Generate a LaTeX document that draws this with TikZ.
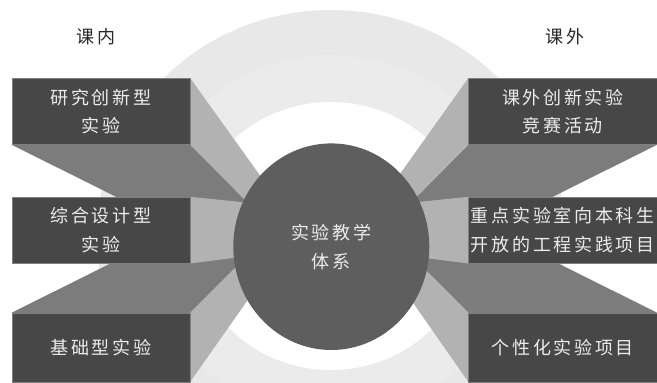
\documentclass[tikz,border=0pt]{standalone}
\usepackage{fontspec}
\newfontfamily\cjk[LetterSpace=15]{Noto Sans CJK SC}
\usetikzlibrary{shapes.geometric}
\pgfdeclarelayer{rings}
\pgfdeclarelayer{faces}
\pgfsetlayers{rings,faces,main}
\definecolor{boxdark}{RGB}{71,71,71}
\definecolor{facelight}{RGB}{178,178,178}
\definecolor{facemid}{RGB}{124,124,124}
\definecolor{hub}{RGB}{94,94,94}
\definecolor{boxtext}{RGB}{236,236,236}
\definecolor{labeltext}{RGB}{40,40,40}
\begin{document}
\begin{tikzpicture}[x=1pt,y=-1pt,
  box/.style={draw=black!50, line width=0.4pt, fill=boxdark, inner sep=0pt,
    text=boxtext, font=\cjk\fontsize{18}{28.5}\selectfont, align=center},
  lightface/.style={fill=facelight},
  midface/.style={fill=facemid},
  hubnode/.style={ellipse, fill=hub, inner sep=0pt, minimum width=196pt, minimum height=206.6pt,
    text=boxtext, font=\cjk\fontsize{18}{29}\selectfont, align=center},
  sidelabel/.style={text=labeltext, font=\cjk\fontsize{18}{22}\selectfont}]
\useasboundingbox (0,0) rectangle (657,383);
\clip (0,0) rectangle (657,383);
% boxes (named nodes)
\node[box, minimum width=178.3pt, minimum height=66.2pt] (l1) at (100.85,111.4) {研究创新型\\实验};
\node[box, minimum width=178.3pt, minimum height=66.3pt] (l2) at (100.85,230.15) {综合设计型\\实验};
\node[box, minimum width=178.3pt, minimum height=68.7pt] (l3) at (100.85,347.35) {基础型实验};
\node[box, minimum width=188.5pt, minimum height=66.2pt] (r1) at (562.75,111.4) {课外创新实验\\竞赛活动};
\node[box, minimum width=188.5pt, minimum height=66.3pt] (r2) at (562.75,230.15) {重点实验室向本科生\\开放的工程实践项目};
\node[box, minimum width=188.5pt, minimum height=68.7pt] (r3) at (562.75,347.35) {个性化实验项目};
% hub
\node[hubnode] (hub) at (331.3,246.7) {实验教学\\体系};
% side labels
\node[sidelabel] (kn) at (96,37) {课内};
\node[sidelabel] (kw) at (565,37) {课外};
% far points of the extrusions (hidden behind the hub)
\coordinate (a1t) at (280,203.4);
\coordinate (a1b) at (280,235);
\coordinate (a1c) at (280,278.5);
\coordinate (a2t) at (280,206);
\coordinate (a2b) at (280,252);
\coordinate (a3c) at (280,179);
\coordinate (a3t) at (280,223);
\coordinate (a3b) at (280,254);
\coordinate (b1t) at (379,203.4);
\coordinate (b1b) at (379,235);
\coordinate (b1c) at (379,283.5);
\coordinate (b2t) at (379,206);
\coordinate (b2b) at (379,252);
\coordinate (b3c) at (379,174);
\coordinate (b3t) at (379,223);
\coordinate (b3b) at (379,254);
\begin{pgfonlayer}{rings}
\fill[white] (0,0) rectangle (657,383);
\shade[left color=gray!18, middle color=gray!7, right color=gray!18]
  (331,236) ellipse [x radius=234pt, y radius=226pt];
\shade[left color=gray!16, middle color=white, right color=gray!16]
  (331,236) ellipse [x radius=188pt, y radius=181pt];
\shade[left color=white, middle color=gray!34, right color=white]
  (331,236) ellipse [x radius=140pt, y radius=134pt];
\end{pgfonlayer}
\begin{pgfonlayer}{faces}
% top faces of the lower boxes
\path[midface] (l3.north west) -- (l3.north east) -- (a3t) -- (a3c) -- cycle;
\path[midface] (r3.north east) -- (r3.north west) -- (b3t) -- (b3c) -- cycle;
% bottom faces of the upper boxes
\path[midface] (l1.south west) -- (l1.south east) -- (a1b) -- (a1c) -- cycle;
\path[midface] (r1.south east) -- (r1.south west) -- (b1b) -- (b1c) -- cycle;
% side faces
\path[lightface] (l1.north east) -- (a1t) -- (a1b) -- (l1.south east) -- cycle;
\path[lightface] (r1.north west) -- (b1t) -- (b1b) -- (r1.south west) -- cycle;
\path[lightface] (l3.north east) -- (a3t) -- (a3b) -- (l3.south east) -- cycle;
\path[lightface] (r3.north west) -- (b3t) -- (b3b) -- (r3.south west) -- cycle;
\path[lightface] (l2.north east) -- (a2t) -- (a2b) -- (l2.south east) -- cycle;
\path[lightface] (r2.north west) -- (b2t) -- (b2b) -- (r2.south west) -- cycle;
\end{pgfonlayer}
\end{tikzpicture}
\end{document}
